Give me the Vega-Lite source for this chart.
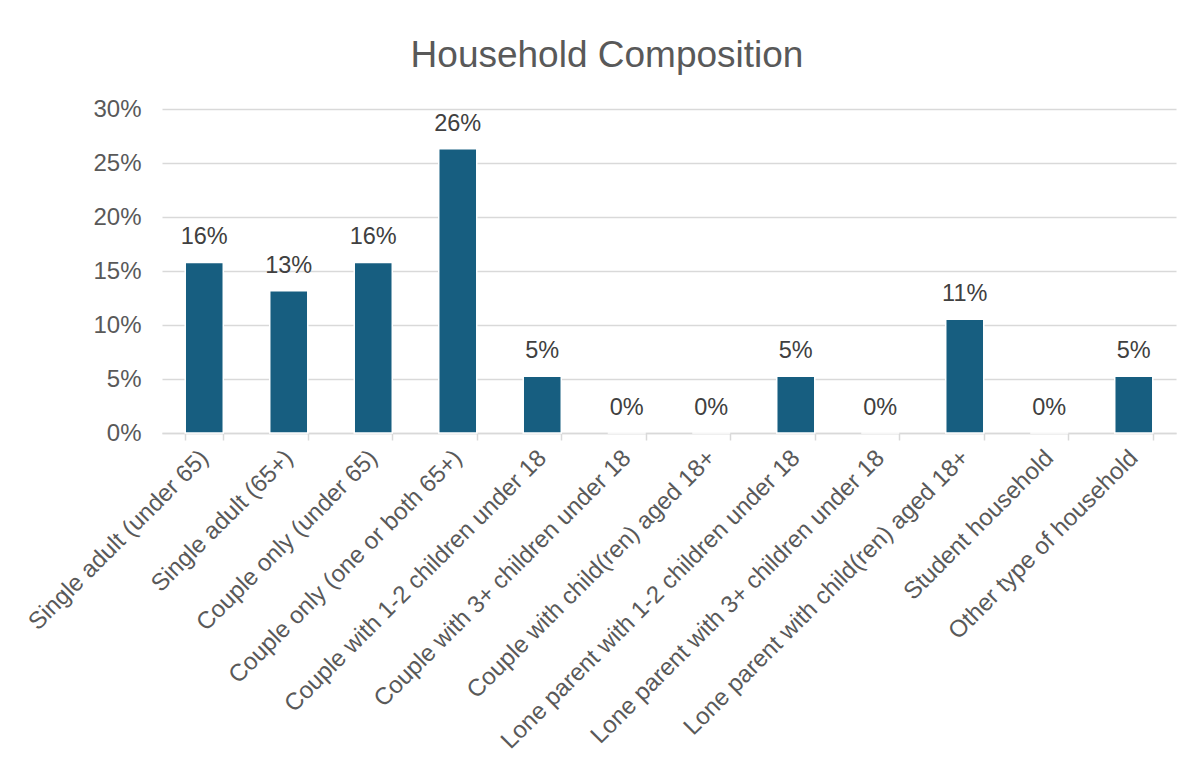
{
  "$schema": "https://vega.github.io/schema/vega-lite/v6.json",
  "autosize": {"type": "none"},
  "padding": {"left": 162, "top": 109, "right": 16, "bottom": 334},
  "width": 1014,
  "height": 324,
  "background": "white",
  "title": {
    "text": "Household Composition",
    "font": "Liberation Sans",
    "fontSize": 37,
    "fontWeight": "normal",
    "color": "#595959",
    "anchor": "middle",
    "baseline": "alphabetic",
    "offset": -7,
    "dx": -62
  },
  "data": {
    "values": [
      {"category": "Single adult (under 65)", "share": 0.1579},
      {"category": "Single adult (65+)", "share": 0.1316},
      {"category": "Couple only (under 65)", "share": 0.1579},
      {"category": "Couple only (one or both 65+)", "share": 0.2632},
      {"category": "Couple with 1-2 children under 18", "share": 0.0526},
      {"category": "Couple with 3+ children under 18", "share": 0},
      {"category": "Couple with child(ren) aged 18+", "share": 0},
      {"category": "Lone parent with 1-2 children under 18", "share": 0.0526},
      {"category": "Lone parent with 3+ children under 18", "share": 0},
      {"category": "Lone parent with child(ren) aged 18+", "share": 0.1053},
      {"category": "Student household", "share": 0},
      {"category": "Other type of household", "share": 0.0526}
    ]
  },
  "encoding": {
    "x": {
      "field": "category",
      "type": "nominal",
      "sort": null,
      "scale": {"paddingInner": 0.55, "paddingOuter": 0.275},
      "axis": {
        "title": null,
        "labelAngle": -45,
        "labelAlign": "right",
        "labelBaseline": "middle",
        "labelFont": "Liberation Sans",
        "labelFontSize": 24,
        "labelColor": "#595959",
        "labelPadding": 14,
        "labelLimit": 600,
        "domainColor": "#d9d9d9",
        "domainWidth": 1.5,
        "tickColor": "#d9d9d9",
        "tickWidth": 1.5,
        "tickSize": 7,
        "tickBand": "extent",
        "grid": false
      }
    },
    "y": {
      "field": "share",
      "type": "quantitative",
      "scale": {"domain": [0, 0.3], "nice": false},
      "axis": {
        "title": null,
        "format": ".0%",
        "values": [0, 0.05, 0.1, 0.15, 0.2, 0.25, 0.3],
        "labelFont": "Liberation Sans",
        "labelFontSize": 24,
        "labelColor": "#595959",
        "labelPadding": 21,
        "ticks": false,
        "domain": false,
        "grid": true,
        "gridColor": "#d9d9d9",
        "gridWidth": 1.5
      }
    }
  },
  "layer": [
    {
      "mark": {"type": "bar", "color": "#175E80", "stroke": "white", "strokeWidth": 1.5}
    },
    {
      "mark": {
        "type": "text",
        "font": "Liberation Sans",
        "fontSize": 23.5,
        "color": "#404040",
        "baseline": "alphabetic",
        "dy": -18
      },
      "encoding": {
        "text": {"field": "share", "type": "quantitative", "format": ".0%"}
      }
    }
  ],
  "config": {
    "view": {"stroke": null}
  }
}
